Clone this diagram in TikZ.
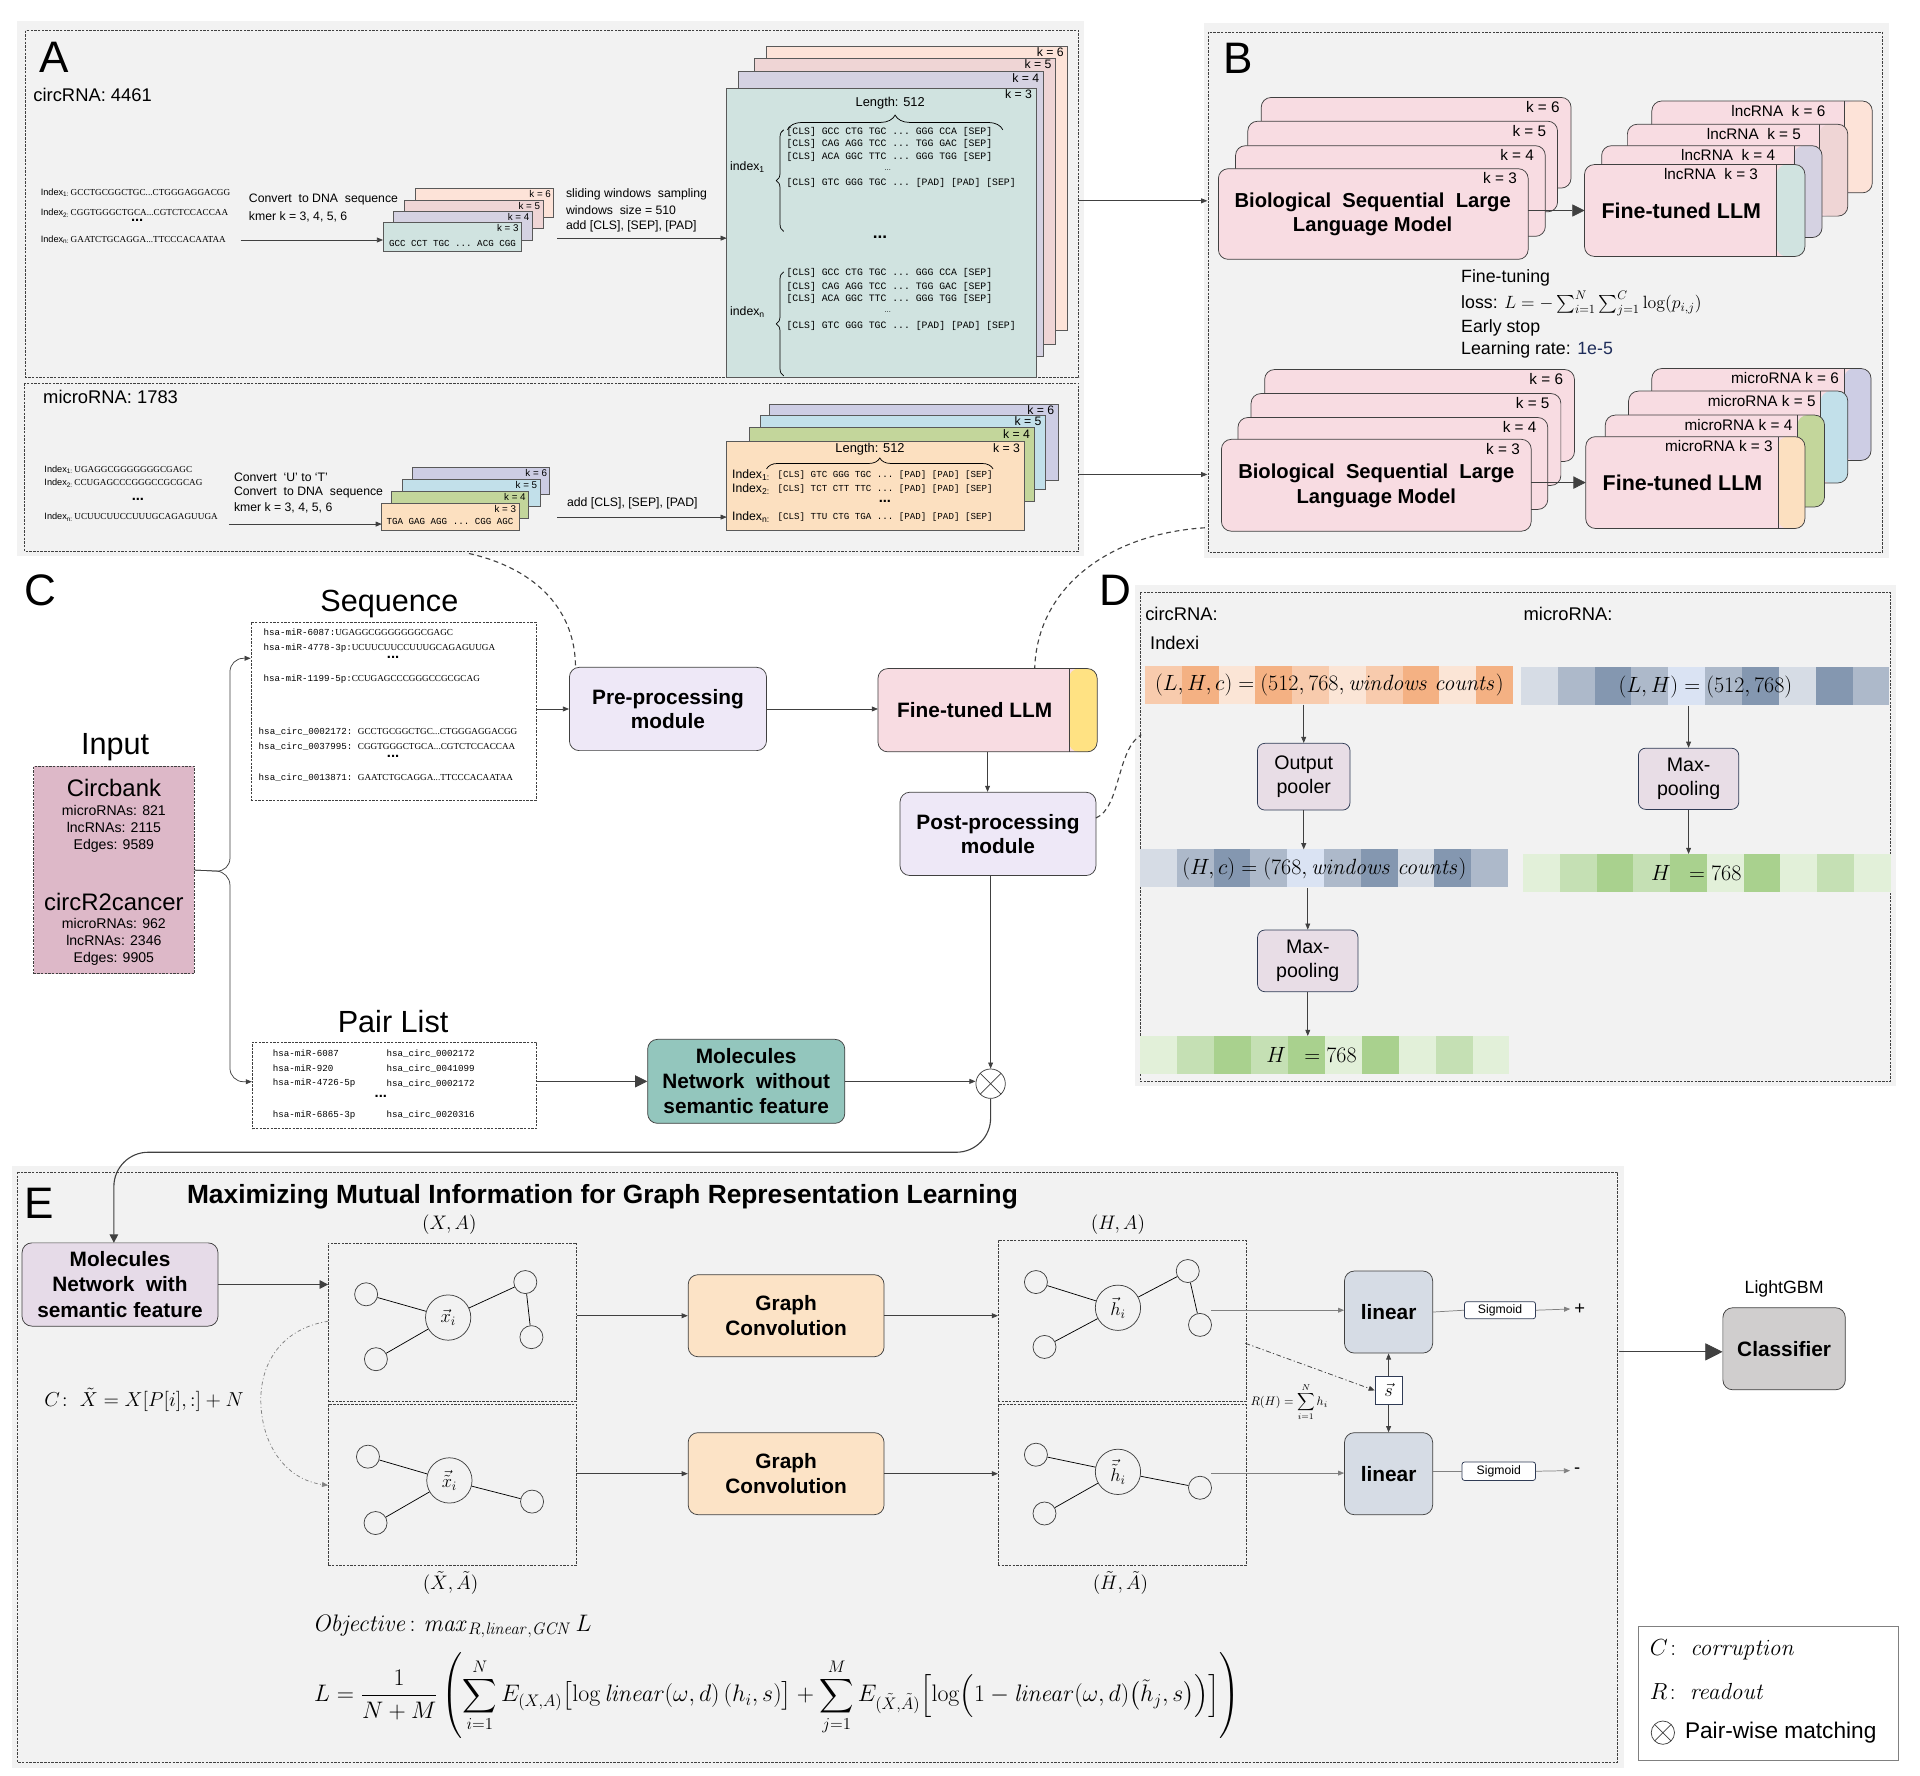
\documentclass[tikz,border=0pt]{standalone}
\usepackage{fix-cm}
\usepackage{amsmath}
\usepackage{amssymb}
\usepackage[no-math]{fontspec}
\setmainfont{Liberation Sans}
\setmonofont{Liberation Mono}
\newfontfamily\seqfont{Liberation Serif}
\usetikzlibrary{positioning,arrows.meta,decorations.pathreplacing,calc}

\definecolor{panelgray}{HTML}{F2F2F2}
\definecolor{kteal}{HTML}{D0E3E0}
\definecolor{klav}{HTML}{D5D2E2}
\definecolor{kpink}{HTML}{EFD5D5}
\definecolor{kpeach}{HTML}{FDE3D8}
\definecolor{morange}{HTML}{FCE0C0}
\definecolor{mgreen}{HTML}{C3D69B}
\definecolor{mblue}{HTML}{C2E0EA}
\definecolor{mlav}{HTML}{CDCDE4}
\definecolor{llmpink}{HTML}{F8DCE2}
\definecolor{modlav}{HTML}{EEE8F7}
\definecolor{tabyellow}{HTML}{FFE283}
\definecolor{molteal}{HTML}{93C6BD}
\definecolor{inpink}{HTML}{DDB8C8}
\definecolor{poolmauve}{HTML}{E8DDE6}
\definecolor{navyline}{HTML}{2F3B55}
\definecolor{gcorange}{HTML}{FCE3C6}
\definecolor{linblue}{HTML}{D6DCE5}
\definecolor{clsgray}{HTML}{D0CECE}
\definecolor{molwith}{HTML}{E6DBE8}
\definecolor{darkline}{HTML}{404040}
\definecolor{lrblue}{HTML}{1F2D5A}
\definecolor{or1}{HTML}{F8CBAD}
\definecolor{or2}{HTML}{F4B183}
\definecolor{or3}{HTML}{FBE5D6}
\definecolor{bl1}{HTML}{D6DCE5}
\definecolor{bl2}{HTML}{ADB9CA}
\definecolor{bl3}{HTML}{8497B0}
\definecolor{bl4}{HTML}{DAE3F3}
\definecolor{gr1}{HTML}{E2F0D9}
\definecolor{gr2}{HTML}{C5E0B4}
\definecolor{gr3}{HTML}{A9D18E}

\begin{document}
\begin{tikzpicture}[x=1pt,y=1pt,line width=0.6pt]
    \tikzstyle{every node}+=[inner sep=0pt]
    \tikzstyle{frame}=[draw=darkline, dash pattern=on 2pt off 1pt, line width=0.5pt]
    \tikzstyle{card}=[draw=gray!70!black, anchor=north west, outer sep=0pt]
    \tikzstyle{rcard}=[draw=darkline, rounded corners=8pt, anchor=north west, outer sep=0pt]
    \tikzstyle{arr}=[draw=darkline, -{Triangle[length=5pt,width=4pt]}]
    \tikzstyle{bigarr}=[draw=darkline, -{Triangle[length=10pt,width=10pt]}]
    \tikzstyle{dashlink}=[draw=darkline, dash pattern=on 4pt off 3pt, line width=0.9pt]
    \tikzstyle{modbox}=[draw=darkline, rounded corners=8pt, align=center, font=\fontsize{17}{20}\selectfont\bfseries]
    \tikzstyle{bignum}=[font=\fontsize{36}{40}\selectfont]
    \tikzstyle{title}=[anchor=base, font=\fontsize{25}{28}\selectfont]
    \tikzstyle{idx}=[anchor=west, font=\fontsize{7.5}{9}\selectfont]
    \tikzstyle{note}=[anchor=west, font=\fontsize{10}{12}\selectfont]
    \tikzstyle{tok}=[anchor=west, font=\fontsize{8}{9}\ttfamily]
    \tikzstyle{seqline}=[anchor=west, font=\fontsize{7.5}{9}\ttfamily]
    \tikzstyle{klabel}=[anchor=north east, font=\fontsize{9.5}{10}\selectfont]
    \tikzstyle{dots}=[font=\fontsize{12}{12}\selectfont\bfseries]
    \tikzstyle{ftx}=[anchor=west, font=\fontsize{14.5}{16}\selectfont]
    \tikzstyle{dtext}=[anchor=west, font=\fontsize{15}{17}\selectfont]
    \tikzstyle{dbox}=[draw=navyline, fill=poolmauve, rounded corners=6pt, align=center, font=\fontsize{16}{20}\selectfont]
    \tikzstyle{barlabel}=[anchor=north west, minimum height=31pt, font=\fontsize{18}{20}\selectfont]
    \tikzstyle{gnode}=[draw=darkline, circle, minimum size=18.8pt]
    \tikzstyle{cnode}=[draw=darkline, circle, minimum size=37pt, font=\fontsize{15}{16}\selectfont]
    \tikzstyle{gbox}=[frame, anchor=north west, minimum width=203pt, outer sep=0pt]
    \tikzstyle{crossed}=[draw=darkline, circle, fill=white, path picture={\draw[darkline] (path picture bounding box.north west) -- (path picture bounding box.south east) (path picture bounding box.north east) -- (path picture bounding box.south west);}]
    \tikzstyle{emath}=[font=\fontsize{16}{18}\selectfont]

    \useasboundingbox[fill=white] (0,0) rectangle (1568,-1450);

    \fill[panelgray] (14,-17) rectangle (885,-454);
    \draw[frame] (21,-25) rectangle (881,-308);
    \draw[frame] (20,-313) rectangle (881,-450);
    \fill[panelgray] (983,-19) rectangle (1543,-456);
    \draw[frame] (987,-26) rectangle (1537,-451);
    \fill[panelgray] (927,-478) rectangle (1548,-887);
    \draw[frame] (931,-484) rectangle (1544,-883);
    \fill[panelgray] (10,-952) rectangle (1326,-1444);
    \draw[frame] (14,-957) rectangle (1321,-1439);

    \node[bignum] (labA) at (44,-46.5) {A};
    \node[bignum] (labB) at (1011,-47.3) {B};
    \node[bignum] (labC) at (33,-482) {C};
    \node[bignum] (labD) at (911,-482) {D};
    \node[bignum] (labE) at (32,-983) {E};

    % A: circRNA
    \node[anchor=west, font=\fontsize{15}{18}\selectfont] (circT) at (27,-77.6) {circRNA: 4461};
    \node[idx] (ia1) at (33,-157.6) {Index\textsubscript{1:}\,{\seqfont GCCTGCGGCTGC...CTGGGAGGACGG}};
    \node[idx] (ia2) at (33,-174) {Index\textsubscript{2:}\,{\seqfont CGGTGGGCTGCA...CGTCTCCACCAA}};
    \node[dots] (iad) at (112,-180) {...};
    \node[idx] (ian) at (33,-196) {Index\textsubscript{n:}\,{\seqfont GAATCTGCAGGA...TTCCCACAATAA}};
    \node[note] (cva1) at (203,-163) {Convert\ \ to DNA\ \ sequence};
    \node[note] (cva2) at (203,-177) {kmer k = 3, 4, 5, 6};
    \foreach \k/\c in {6/kpeach,5/kpink,4/klav,3/kteal}{
        \node[card, fill=\c, minimum width=113pt, minimum height=23.5pt] (sa\k) at ({312.8+(\k-3)*8.8},{-182+(\k-3)*9.3}) {};
        \node[klabel, font=\fontsize{8}{9}\selectfont] (sal\k) at ($(sa\k.north east)+(-2,-1.2)$) {k = \k};
    }
    \node[font=\fontsize{7.5}{8}\ttfamily] (sat) at (369.5,-199) {GCC CCT TGC ... ACG CGG};
    \coordinate (ca) at (196.6,-196);
    \draw[arr] (ca) -- (ca -| sa3.west);

    \node[note] (sla1) at (462,-159) {sliding windows\ \ sampling};
    \node[note] (sla2) at (462,-172) {windows\ \ size = 510};
    \node[note] (sla3) at (462,-185) {add [CLS], [SEP], [PAD]};
    \foreach \k/\x/\y/\w/\h/\c in {6/626/38/246/231.5/kpeach,5/616/47.5/246/233.5/kpink,4/603/58.5/249/232.5/klav,3/593.5/72/252.5/236/kteal}{
        \node[card, fill=\c, minimum width=\w pt, minimum height=\h pt] (ba\k) at (\x,-\y) {};
        \node[klabel, font=\fontsize{10}{11}\selectfont] (bal\k) at ($(ba\k.north east)+(-3,-1)$) {k = \k};
    }
    \coordinate (sla) at (455,-194.5);
    \draw[arr] (sla) -- (sla -| ba3.west);
    \node[font=\fontsize{10.5}{12}\selectfont] (lenA) at (727,-84) {Length: 512};
    \draw[decorate, decoration={brace, amplitude=12pt}] (643,-106) -- (819,-106);
    \node[note] (ixa1) at (596,-136.5) {index\textsubscript{1}};
    \draw[decorate, decoration={brace, amplitude=6pt}] (640,-189) -- (640,-106);
    \node[tok] (ta1) at (642,-107.6) {[CLS] GCC CTG TGC ... GGG CCA [SEP]};
    \node[tok] (ta2) at (642,-117.8) {[CLS] CAG AGG TCC ... TGG GAC [SEP]};
    \node[tok] (ta3) at (642,-128) {[CLS] ACA GGC TTC ... GGG TGG [SEP]};
    \node[font=\fontsize{6}{6}\selectfont] (tad) at (725,-139) {...};
    \node[tok] (ta4) at (642,-149.5) {[CLS] GTC GGG TGC ... [PAD] [PAD] [SEP]};
    \node[dots, font=\fontsize{14}{14}\selectfont\bfseries] (dotsA) at (718.6,-194) {...};
    \node[note] (ixan) at (596,-254.6) {index\textsubscript{n}};
    \draw[decorate, decoration={brace, amplitude=6pt}] (640,-307) -- (640,-222);
    \node[tok] (tb1) at (642,-223) {[CLS] GCC CTG TGC ... GGG CCA [SEP]};
    \node[tok] (tb2) at (642,-234) {[CLS] CAG AGG TCC ... TGG GAC [SEP]};
    \node[tok] (tb3) at (642,-244) {[CLS] ACA GGC TTC ... GGG TGG [SEP]};
    \node[font=\fontsize{6}{6}\selectfont] (tbd) at (725,-255) {...};
    \node[tok] (tb4) at (642,-266) {[CLS] GTC GGG TGC ... [PAD] [PAD] [SEP]};

    % A: microRNA
    \node[anchor=west, font=\fontsize{15}{18}\selectfont] (micT) at (35,-324) {microRNA: 1783};
    \node[idx] (im1) at (36,-383.8) {Index\textsubscript{1:}\,{\seqfont UGAGGCGGGGGGGCGAGC}};
    \node[idx] (im2) at (36,-394.7) {Index\textsubscript{2:}\,{\seqfont CCUGAGCCCGGGCCGCGCAG}};
    \node[dots] (imd) at (112.6,-408) {...};
    \node[idx] (imn) at (36,-422.3) {Index\textsubscript{n:}\,{\seqfont UCUUCUUCCUUUGCAGAGUUGA}};
    \node[note] (cvm1) at (190.8,-389.5) {Convert\ \ `U' to `T'};
    \node[note] (cvm2) at (190.8,-402.6) {Convert\ \ to DNA\ \ sequence};
    \node[note] (cvm3) at (190.8,-415) {kmer k = 3, 4, 5, 6};
    \foreach \k/\x/\y/\c in {6/337/381.6/mlav,5/329/391.4/mblue,4/319.6/401.5/mgreen,3/311.8/411/morange}{
        \node[card, fill=\c, minimum width=112pt, minimum height=22pt] (sm\k) at (\x,-\y) {};
        \node[klabel, font=\fontsize{8}{9}\selectfont] (sml\k) at ($(sm\k.north east)+(-2,-1.2)$) {k = \k};
    }
    \node[font=\fontsize{7.5}{8}\ttfamily] (smt) at (367.5,-426) {TGA GAG AGG ... CGG AGC};
    \coordinate (cm) at (187,-428);
    \draw[arr] (cm) -- (cm -| sm3.west);
    \node[note] (slm) at (462.8,-410.9) {add [CLS], [SEP], [PAD]};
    \foreach \k/\x/\y/\w/\h/\c in {6/628.3/330/236/62/mlav,5/621.2/339/232.6/60.6/mblue,4/611.7/349.3/232.8/60.4/mgreen,3/593.5/360.7/242.8/72.7/morange}{
        \node[card, fill=\c, minimum width=\w pt, minimum height=\h pt] (bm\k) at (\x,-\y) {};
        \node[klabel, font=\fontsize{10}{11}\selectfont] (bml\k) at ($(bm\k.north east)+(-3,-1)$) {k = \k};
    }
    \coordinate (slm) at (455,-422.3);
    \draw[arr] (slm) -- (slm -| bm3.west);
    \node[font=\fontsize{10.5}{12}\selectfont] (lenM) at (710.5,-366.5) {Length: 512};
    \draw[decorate, decoration={brace, amplitude=9pt}] (626,-383) -- (811,-383);
    \node[note] (ixm1) at (597.6,-388) {Index\textsubscript{1:}};
    \node[note] (ixm2) at (597.6,-399.6) {Index\textsubscript{2:}};
    \node[note] (ixmn) at (597.6,-422) {Index\textsubscript{n:}};
    \node[tok, font=\fontsize{7.5}{9}\ttfamily] (tm1) at (634.8,-388) {[CLS] GTC GGG TGC ... [PAD] [PAD] [SEP]};
    \node[tok, font=\fontsize{7.5}{9}\ttfamily] (tm2) at (634.8,-399.6) {[CLS] TCT CTT TTC ... [PAD] [PAD] [SEP]};
    \node[dots] (tmd) at (722.7,-409.5) {...};
    \node[tok, font=\fontsize{7.5}{9}\ttfamily] (tmn) at (634.8,-422) {[CLS] TTU CTG TGA ... [PAD] [PAD] [SEP]};

    \coordinate (aout1) at (881,-164);
    \coordinate (bin1) at (986,-164);
    \coordinate (aout2) at (881,-387.5);
    \coordinate (bin2) at (986,-387.5);
    \draw[arr] (aout1) -- (bin1);
    \draw[arr] (aout2) -- (bin2);

    % B
    \foreach \k/\x/\y in {6/1030/79.6,5/1019/99,4/1009/119,3/995/137.8}{
        \node[rcard, fill=llmpink, minimum width=253pt, minimum height=74pt] (bu\k) at (\x,-\y) {};
        \node[klabel, font=\fontsize{12.5}{13}\selectfont] (bul\k) at ($(bu\k.north east)+(-9,-3)$) {k = \k};
    }
    \node[align=center, font=\fontsize{16.5}{20.2}\selectfont\bfseries] (but) at (1121,-175) {Biological\ \ Sequential\ \ Large\\Language Model};
    \foreach \k/\x/\y/\c in {6/1349/82.5/kpeach,5/1329/101.5/kpink,4/1308/119/klav,3/1294/134.4/kteal}{
        \node[rcard, fill=llmpink, minimum width=180pt, minimum height=75pt, path picture={\fill[\c] ([xshift=-23pt]path picture bounding box.north east) rectangle (path picture bounding box.south east); \draw[darkline] ([xshift=-23pt]path picture bounding box.north east) -- ([xshift=-23pt]path picture bounding box.south east);}] (fu\k) at (\x,-\y) {};
        \node[klabel, font=\fontsize{12.5}{13}\selectfont] (ful\k) at ($(fu\k.north east)+(-38,-3)$) {lncRNA\ \ k = \k};
    }
    \node[font=\fontsize{17.5}{18}\selectfont\bfseries] (fut) at (1373,-172) {Fine-tuned LLM};
    \draw[bigarr] (bu3.east |- fu3.west) -- (fu3.west);

    \node[ftx] (ftn1) at (1193,-227) {Fine-tuning};
    \node[ftx] (ftn2) at (1193,-248) {loss: $L=-\sum_{i=1}^{N}\sum_{j=1}^{C}\log(p_{i,j})$};
    \node[ftx] (ftn3) at (1193,-267.5) {Early stop};
    \node[ftx] (ftn4) at (1193,-286) {Learning rate: \textcolor{lrblue}{1e-5}};

    \foreach \k/\x/\y in {6/1032.8/301.8,5/1021.7/321.4,4/1011/341,3/997.5/358.8}{
        \node[rcard, fill=llmpink, minimum width=253pt, minimum height=75pt] (bd\k) at (\x,-\y) {};
        \node[klabel, font=\fontsize{12.5}{13}\selectfont] (bdl\k) at ($(bd\k.north east)+(-9,-3)$) {k = \k};
    }
    \node[align=center, font=\fontsize{16.5}{20.2}\selectfont\bfseries] (bdt) at (1124,-396.5) {Biological\ \ Sequential\ \ Large\\Language Model};
    \foreach \k/\x/\y/\c in {6/1349/301/mlav,5/1330/319.4/mblue,4/1311/339/mgreen,3/1295/356.6/morange}{
        \node[rcard, fill=llmpink, minimum width=179pt, minimum height=75pt, path picture={\fill[\c] ([xshift=-22pt]path picture bounding box.north east) rectangle (path picture bounding box.south east); \draw[darkline] ([xshift=-22pt]path picture bounding box.north east) -- ([xshift=-22pt]path picture bounding box.south east);}] (fd\k) at (\x,-\y) {};
        \node[klabel, font=\fontsize{12.5}{13}\selectfont] (fdl\k) at ($(fd\k.north east)+(-26,-3)$) {microRNA k = \k};
    }
    \node[font=\fontsize{17.5}{18}\selectfont\bfseries] (fdt) at (1374,-394) {Fine-tuned LLM};
    \draw[bigarr] (bd3.east |- fd3.west) -- (fd3.west);

    % C
    \node[title] (seqT) at (318,-499) {Sequence};
    \node[frame, anchor=north west, minimum width=232.8pt, minimum height=145.6pt] (seqbox) at (204.7,-507.7) {};
    \node[seqline] (q1) at (215,-516.4) {hsa-miR-6087:{\seqfont UGAGGCGGGGGGGCGAGC}};
    \node[seqline] (q2) at (215,-529) {hsa-miR-4778-3p:{\seqfont UCUUCUUCCUUUGCAGAGUUGA}};
    \node[dots] (qd1) at (321,-537) {...};
    \node[seqline] (q3) at (215,-554.5) {hsa-miR-1199-5p:{\seqfont CCUGAGCCCGGGCCGCGCAG}};
    \node[seqline] (q4) at (211,-597.5) {hsa\_circ\_0002172: {\seqfont GCCTGCGGCTGC...CTGGGAGGACGG}};
    \node[seqline] (q5) at (211,-609.8) {hsa\_circ\_0037995: {\seqfont CGGTGGGCTGCA...CGTCTCCACCAA}};
    \node[dots] (qd2) at (321,-618) {...};
    \node[seqline] (q6) at (211,-634.8) {hsa\_circ\_0013871: {\seqfont GAATCTGCAGGA...TTCCCACAATAA}};

    \node[title] (inT) at (94,-616) {Input};
    \node[frame, fill=inpink, anchor=north west, minimum width=131.2pt, minimum height=169.4pt] (inbox) at (27.2,-625.6) {};
    \node[font=\fontsize{19.5}{22}\selectfont] (db1) at (93,-643.8) {Circbank};
    \node[font=\fontsize{11.5}{14}\selectfont, align=center] (db1s) at (93,-677) {microRNAs: 821\\lncRNAs: 2115\\Edges: 9589};
    \node[font=\fontsize{19.5}{22}\selectfont] (db2) at (93,-736.4) {circR2cancer};
    \node[font=\fontsize{11.5}{14}\selectfont, align=center] (db2s) at (93,-769) {microRNAs: 962\\lncRNAs: 2346\\Edges: 9905};

    \node[title] (pairT) at (321,-843) {Pair List};
    \node[frame, anchor=north west, minimum width=232.3pt, minimum height=70.7pt] (pairbox) at (205.7,-850.7) {};
    \foreach \a/\b/\y in {hsa-miR-6087/hsa\_circ\_0002172/860.2, hsa-miR-920/hsa\_circ\_0041099/872.4, hsa-miR-4726-5p/hsa\_circ\_0002172/884.7, hsa-miR-6865-3p/hsa\_circ\_0020316/910.6}{
        \node[seqline] (pa\y) at (222.5,-\y) {\a};
        \node[seqline] (pb\y) at (315.4,-\y) {\b};
    }
    \node[dots] (pd) at (311,-895) {...};

    \coordinate (seqin) at (204.7,-537.6);
    \coordinate (pairin) at (205.7,-883.4);
    \draw[arr, rounded corners=11pt] (inbox.east) -- (187.8,-711.9) |- (seqin);
    \draw[arr, rounded corners=11pt] (inbox.east) -- (187.8,-711.9) |- (pairin);

    \node[modbox, fill=molteal, minimum width=161pt, minimum height=68.6pt, font=\fontsize{17}{20.5}\selectfont\bfseries] (molo) at (609.4,-883.1) {Molecules\\Network\ \ without\\semantic feature};
    \draw[bigarr] (pairbox.east |- molo.west) -- (molo.west);

    \node[modbox, fill=modlav, minimum width=161pt, minimum height=68pt] (pre) at (545.5,-579) {Pre-processing\\module};
    \node[rcard, anchor=center, fill=llmpink, minimum width=179pt, minimum height=68pt, path picture={\fill[tabyellow] ([xshift=-23pt]path picture bounding box.north east) rectangle (path picture bounding box.south east); \draw[darkline] ([xshift=-23pt]path picture bounding box.north east) -- ([xshift=-23pt]path picture bounding box.south east);}] (ftc) at (806.5,-580) {};
    \node[font=\fontsize{17}{18}\selectfont\bfseries] (ftct) at (796,-580) {Fine-tuned LLM};
    \node[modbox, fill=modlav, minimum width=160pt, minimum height=68pt] (post) at (815,-681) {Post-processing\\module};
    \node[crossed, minimum size=24pt] (pm) at (809,-885) {};

    \draw[arr] (seqbox.east |- pre.west) -- (pre.west);
    \draw[arr] (pre.east) -- (pre.east -| ftc.west);
    \draw[arr] (ftc.south) -- (ftc.south |- post.north);
    \draw[arr] (post.south -| pm.north) -- (pm.north);
    \draw[arr] (molo.east) -- (molo.east -| pm.west);
    \coordinate (turn) at (93,-941);
    \coordinate (molwin) at (93,-1015);
    \draw[arr, -{Triangle[length=7pt,width=7pt]}, line width=0.9pt, rounded corners=28pt] (pm.south) |- (turn) -- (molwin);

    \coordinate (aout) at (383,-452);
    \coordinate (prein) at (470,-545);
    \coordinate (bout) at (984,-431);
    \coordinate (ftin) at (845,-546);
    \coordinate (dout) at (895,-668);
    \coordinate (din) at (932,-600);
    \draw[dashlink] (aout) .. controls (440,-465) and (470,-500) .. (prein);
    \draw[dashlink] (bout) .. controls (905,-436) and (847,-480) .. (ftin);
    \draw[dashlink] (dout) .. controls (915,-660) and (912,-612) .. (din);

    % D
    \node[dtext] (dcirc) at (935,-501) {circRNA:};
    \node[dtext] (dmic) at (1244,-501) {microRNA:};
    \node[dtext] (dind) at (939,-525.4) {Indexi};
    \foreach \c [count=\i from 0] in {or1,or2,or3,or2,or1,or3,or1,or2,or3,or2}
        \fill[\c] ({935+\i*30.06},-543.9) rectangle ++(30.06,-31);
    \node[barlabel, minimum width=300.6pt] (obar) at (935,-543.9) {$(L,H,c)=(512,768,\mathit{windows\ counts})$};
    \foreach \c [count=\i from 0] in {bl1,bl2,bl3,bl2,bl4,bl2,bl3,bl1,bl3,bl2}
        \fill[\c] ({1242+\i*30.1},-545) rectangle ++(30.1,-31);
    \node[barlabel, minimum width=301pt] (mbar) at (1242,-545) {$(L,H)=(512,768)$};
    \foreach \c [count=\i from 0] in {bl1,bl2,bl3,bl2,bl4,bl2,bl3,bl1,bl3,bl2}
        \fill[\c] ({931+\i*30.05},-693.6) rectangle ++(30.05,-31);
    \node[barlabel, minimum width=300.5pt] (hbar) at (931,-693.6) {$(H,c)=(768,\mathit{windows\ counts})$};
    \foreach \c [count=\i from 0] in {gr1,gr2,gr3,gr2,gr3,gr1,gr3,gr1,gr2,gr1}
        \fill[\c] ({931+\i*30.17},-846) rectangle ++(30.17,-31);
    \node[barlabel, minimum width=301.7pt] (gbar1) at (931,-846) {$H\ \ =768$\hspace*{22pt}};
    \foreach \c [count=\i from 0] in {gr1,gr2,gr3,gr2,gr3,gr1,gr3,gr1,gr2,gr1}
        \fill[\c] ({1244+\i*30},-697.4) rectangle ++(30,-31);
    \node[barlabel, minimum width=300pt] (gbar2) at (1244,-697.4) {$H\ \ =768$\hspace*{18pt}};
    \node[dbox, minimum width=75.6pt, minimum height=54.5pt] (pool) at (1064.7,-634.3) {Output\\pooler};
    \node[dbox, minimum width=82pt, minimum height=50.4pt] (mpc) at (1068,-784.7) {Max-\\pooling};
    \node[dbox, minimum width=82pt, minimum height=50pt] (mpm) at (1379,-636) {Max-\\pooling};
    \draw[arr] (obar.south -| pool.north) -- (pool.north);
    \draw[arr] (pool.south) -- (pool.south |- hbar.north);
    \draw[arr] (hbar.south -| mpc.north) -- (mpc.north);
    \draw[arr] (mpc.south) -- (mpc.south |- gbar1.north);
    \draw[arr] (mbar.south -| mpm.north) -- (mpm.north);
    \draw[arr] (mpm.south) -- (mpm.south |- gbar2.north);

    % E
    \node[font=\fontsize{21.5}{24}\selectfont\bfseries] (eT) at (492,-977) {Maximizing Mutual Information for Graph Representation Learning};
    \node[modbox, fill=molwith, minimum width=160pt, minimum height=68pt, font=\fontsize{17}{20.5}\selectfont\bfseries] (molw) at (98,-1049) {Molecules\\Network\ \ with\\semantic feature};
    \node[gbox, minimum height=129pt] (gx) at (268,-1015) {};
    \node[gbox, minimum height=131pt] (gxt) at (268,-1147) {};
    \node[gbox, minimum height=131pt] (hx) at (815,-1013) {};
    \node[gbox, minimum height=131pt] (hxt) at (815,-1147) {};
    \node[emath] (gxl) at (367,-1000) {$(X,A)$};
    \node[emath] (gxtl) at (368,-1293) {$(\tilde{X},\tilde{A})$};
    \node[emath] (hxl) at (913,-1000) {$(H,A)$};
    \node[emath] (hxtl) at (915,-1293) {$(\tilde{H},\tilde{A})$};
    \draw[bigarr, -{Triangle[length=7pt,width=7pt]}] (molw.east) -- (molw.east -| gx.west);

    \node[cnode] (xi) at (366,-1076) {$\vec{x}_i$};
    \node[gnode] (xa) at (299,-1057) {};
    \node[gnode] (xb) at (307,-1110) {};
    \node[gnode] (xc) at (429,-1047) {};
    \node[gnode] (xd) at (434,-1092) {};
    \draw (xi) -- (xa) (xi) -- (xb) (xi) -- (xc) (xc) -- (xd);
    \node[cnode] (xti) at (367,-1209) {$\vec{\tilde{x}}_i$};
    \node[gnode] (xta) at (300.5,-1189.6) {};
    \node[gnode] (xtb) at (306.7,-1243.8) {};
    \node[gnode] (xtc) at (434.5,-1226.3) {};
    \draw (xti) -- (xta) (xti) -- (xtb) (xti) -- (xtc);

    \node[cnode] (hi) at (913,-1068) {$\vec{h}_i$};
    \node[gnode] (ha) at (846,-1047) {};
    \node[gnode] (hb) at (853,-1100) {};
    \node[gnode] (hc) at (970,-1038) {};
    \node[gnode] (hd) at (980,-1082) {};
    \draw (hi) -- (ha) (hi) -- (hb) (hi) -- (hc) (hc) -- (hd);
    \node[cnode] (hti) at (913,-1202) {$\vec{\tilde{h}}_i$};
    \node[gnode] (hta) at (846,-1188) {};
    \node[gnode] (htb) at (853,-1236) {};
    \node[gnode] (htc) at (980,-1215) {};
    \draw (hti) -- (hta) (hti) -- (htb) (hti) -- (htc);

    \node[emath, font=\fontsize{16.5}{18}\selectfont] (corr) at (117.5,-1143) {$C\colon\ \tilde{X} = X[P[i],:] + N$};
    \coordinate (cin) at (268,-1079);
    \coordinate (cout) at (268,-1213);
    \draw[draw=gray, dash pattern=on 3pt off 2pt on 0.8pt off 2pt, -{Triangle[length=5pt,width=4pt]}] (cin) .. controls (230,-1085) and (213,-1113) .. (213,-1143) .. controls (213,-1178) and (232,-1208) .. (cout);

    \node[modbox, fill=gcorange, minimum width=160pt, minimum height=67pt] (gc1) at (642,-1074.5) {Graph\\Convolution};
    \node[modbox, fill=gcorange, minimum width=160pt, minimum height=67pt] (gc2) at (642,-1203.5) {Graph\\Convolution};
    \draw[arr] (gc1.west -| gx.east) -- (gc1.west);
    \draw[arr] (gc2.west -| gxt.east) -- (gc2.west);
    \draw[arr] (gc1.east) -- (gc1.east -| hx.west);
    \draw[arr] (gc2.east) -- (gc2.east -| hxt.west);

    \node[modbox, fill=linblue, minimum width=72pt, minimum height=67pt] (lin1) at (1134,-1071.5) {linear};
    \node[modbox, fill=linblue, minimum width=72pt, minimum height=67pt] (lin2) at (1134,-1203.5) {linear};
    \node[draw=navyline, fill=white, minimum width=22pt, minimum height=23pt, font=\fontsize{15}{16}\selectfont] (sv) at (1134,-1135.5) {$\vec{s}$};
    \coordinate (hout1) at (989,-1070);
    \coordinate (hout2) at (989,-1203);
    \coordinate (rdot) at (1017,-1097);
    \draw[arr, draw=gray] (hout1) -- (hout1 -| lin1.west);
    \draw[arr, draw=gray] (hout2) -- (hout2 -| lin2.west);
    \draw[arr, dash pattern=on 4pt off 2pt on 1pt off 2pt] (rdot) -- (sv.west);
    \draw[arr] (sv.north) -- (lin1.south);
    \draw[arr] (sv.south) -- (lin2.north);
    \node[anchor=west, font=\fontsize{10}{11}\selectfont] (rh) at (1021,-1145) {$R(H)=\displaystyle\sum_{i=1}^{N} h_i$};

    \node[draw=navyline, fill=white, rounded corners=2pt, minimum width=58pt, minimum height=14pt, font=\fontsize{10}{10}\selectfont] (sig1) at (1225,-1070) {Sigmoid};
    \node[draw=navyline, fill=white, rounded corners=2pt, minimum width=60pt, minimum height=15pt, font=\fontsize{10}{10}\selectfont] (sig2) at (1224,-1201.5) {Sigmoid};
    \node[font=\fontsize{15}{16}\selectfont] (plus) at (1290,-1069) {+};
    \node[font=\fontsize{15}{16}\selectfont] (minus) at (1288,-1201) {-};
    \draw[draw=gray] (lin1.east) -- (sig1.west);
    \draw[draw=gray] (lin2.east |- sig2.west) -- (sig2.west);
    \draw[arr, draw=gray] (sig1.east) -- ($(plus.west)+(-3,0)$);
    \draw[arr, draw=gray] (sig2.east) -- ($(minus.west)+(-3,0)$);

    \node[modbox, fill=clsgray, minimum width=100pt, minimum height=67pt, font=\fontsize{17}{18}\selectfont\bfseries] (cls) at (1457,-1101.5) {Classifier};
    \node[font=\fontsize{14.5}{16}\selectfont] (lgbm) at (1457,-1053) {LightGBM};
    \coordinate (eout) at (1322,-1104);
    \draw[bigarr, -{Triangle[length=14pt,width=14pt]}] (eout) -- (eout -| cls.west);

    \node[anchor=west, font=\fontsize{19.5}{21}\selectfont] (obj) at (255,-1328) {$\mathit{Objective}\colon \mathit{max}_{R,\mathit{linear},\mathit{GCN}}\,L$};
    \node[font=\fontsize{19.5}{21}\selectfont] (loss) at (635,-1385) {$\displaystyle L=\frac{1}{N+M}\left(\sum_{i=1}^{N}E_{(X,A)}\bigl[\log \mathit{linear}(\omega,d)\,(h_i,s)\bigr]+\sum_{j=1}^{M}E_{(\tilde X,\tilde A)}\Bigl[\log\Bigl(1-\mathit{linear}(\omega,d)\bigl(\tilde{h}_j,s\bigr)\Bigr)\Bigr]\right)$};

    \node[draw=gray, anchor=north west, minimum width=212pt, minimum height=109pt] (legend) at (1338,-1328) {};
    \node[anchor=west, font=\fontsize{19}{20}\selectfont] (lg1) at (1347,-1347) {$C\colon\ \mathit{corruption}$};
    \node[anchor=west, font=\fontsize{19}{20}\selectfont] (lg2) at (1347,-1381) {$R\colon\ \mathit{readout}$};
    \node[crossed, minimum size=19pt] (lgx) at (1358,-1415) {};
    \node[right=8pt of lgx, font=\fontsize{18.5}{20}\selectfont] (lg3) {Pair-wise matching};
\end{tikzpicture}
\end{document}
